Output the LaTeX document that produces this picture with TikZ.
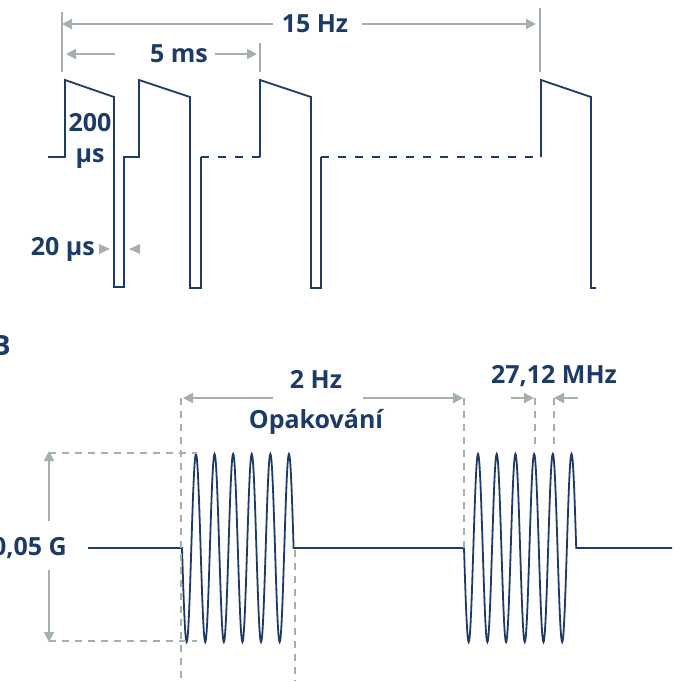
\documentclass[tikz,border=0pt]{standalone}
\usepackage{fontspec}
\setmainfont{Open Sans}
\usetikzlibrary{arrows.meta}
\definecolor{navy}{RGB}{28,59,102}
\definecolor{dimgray}{RGB}{165,176,170}
\begin{document}
\begin{tikzpicture}[x=1pt, y=-1pt,
  sig/.style={navy, line width=1.8pt},
  sigdash/.style={sig, dash pattern=on 8pt off 9pt},
  dim/.style={dimgray, line width=2pt, -{Triangle[length=10pt, width=10pt]}},
  guide/.style={dimgray, line width=2pt},
  guidedash/.style={dimgray, line width=1.6pt, dash pattern=on 7pt off 6pt},
  lbl/.style={navy, font=\fontsize{25}{30}\selectfont\bfseries, inner sep=0pt, anchor=base}]
\useasboundingbox (0,0) rectangle (682,681);
\draw[sig] (48,157) -- (65,157) -- (65,80) -- (114,97) -- (114,287) -- (124,287) -- (124,157) -- (139,157) -- (139,80) -- (190,97) -- (190,288) -- (201,288) -- (201,157);
\draw[sigdash] (201,157) -- (260,157);
\draw[sig] (260,157) -- (260,80) -- (311,97) -- (311,288) -- (321,288) -- (321,157);
\draw[sigdash] (321,157) -- (541,157);
\draw[sig] (541,157) -- (541,80) -- (591,97) -- (591,288) -- (596,288);
\node[lbl] (hz15) at (315,32) {15 Hz};
\node[lbl] (ms5) at (179,62) {5 ms};
\node[lbl] (us200a) at (90,131) {200};
\node[lbl] (us200b) at (90,162) {µs};
\node[lbl, anchor=base east] (us20) at (95,255) {20 µs};
\coordinate (tickA) at (62,12);
\coordinate (tickAb) at (62,72);
\coordinate (tickB) at (540,8);
\coordinate (tickBb) at (540,72);
\coordinate (tickC) at (260,43);
\coordinate (tickCb) at (260,72);
\draw[guide] (tickA) -- (tickAb);
\draw[guide] (tickB) -- (tickBb);
\draw[guide] (tickC) -- (tickCb);
\coordinate (hzL) at (273,24);
\coordinate (hzR) at (362,24);
\draw[dim] (hzL) -- (tickA |- hzL);
\draw[dim] (hzR) -- ([xshift=-4pt]tickB |- hzR);
\coordinate (msL) at (115,54);
\coordinate (msR) at (215,54);
\draw[dim] (msL) -- ([xshift=4pt]tickA |- msL);
\draw[dim] (msR) -- ([xshift=-3pt]tickC |- msR);
\fill[dimgray] (99,244) -- (110,249) -- (99,254) -- cycle;
\fill[dimgray] (140,244) -- (129,249) -- (140,254) -- cycle;
\node[lbl, anchor=base east, font=\fontsize{28}{30}\selectfont\bfseries] (panelB) at (11,355) {B};
\draw[sig] (88,548) -- (182,548) -- plot[domain=0:2160, samples=241] ({182+\x/360*18.6},{548+94*sin(\x)}) -- (464,548) -- plot[domain=0:2160, samples=241] ({464+\x/360*18.7},{548+94*sin(\x)}) -- (672,548);
\node[lbl, anchor=base east] (gauss) at (67,555) {0,05 G};
\node[lbl] (hz2) at (316,388) {2 Hz};
\node[lbl] (rep) at (316,428) {Opakování};
\node[lbl] (mhz) at (554,383) {27,12 MHz};
\coordinate (burstA) at (181,398);
\coordinate (burstAb) at (181,681);
\coordinate (burstE) at (295,550);
\coordinate (burstEb) at (295,681);
\coordinate (burstB) at (464,398);
\coordinate (burstBb) at (464,548);
\coordinate (cycA) at (535,398);
\coordinate (cycAb) at (535,450);
\coordinate (cycB) at (554,398);
\coordinate (cycBb) at (554,450);
\coordinate (topL) at (49,453);
\coordinate (topR) at (197,453);
\coordinate (botL) at (49,641);
\coordinate (botR) at (197,641);
\draw[guidedash] (burstA) -- (burstAb);
\draw[guidedash] (burstE) -- (burstEb);
\draw[guidedash] (burstB) -- (burstBb);
\draw[guidedash] (cycA) -- (cycAb);
\draw[guidedash] (cycB) -- (cycBb);
\draw[guidedash] (topL) -- (topR);
\draw[guidedash] (botL) -- (botR);
\draw[dim] (49,521) -- ([yshift=2pt]topL);
\draw[dim] (49,570) -- ([yshift=-1pt]botL);
\draw[dim] (273,398) -- ([xshift=2pt]burstA);
\draw[dim] (363,398) -- ([xshift=-1pt]burstB);
\draw[dim] (511,398) -- ([xshift=-1pt]cycA);
\draw[dim] (578,398) -- (cycB);
\end{tikzpicture}
\end{document}
